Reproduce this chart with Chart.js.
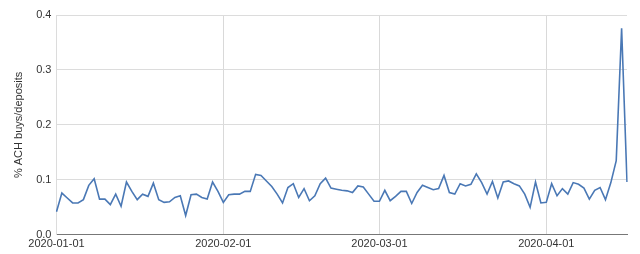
<!DOCTYPE html>
<html>
<head>
<meta charset="utf-8">
<script src="https://cdn.jsdelivr.net/npm/chart.js@4"></script>
<style>
  html, body { margin: 0; padding: 0; background: #fff; }
  #wrap { width: 640px; height: 254px; position: relative; }
</style>
</head>
<body>
<div id="wrap"><canvas id="lineChart"></canvas></div>
<script>
// daily share of ACH buys among deposits, 2020-01-01 .. 2020-04-16
const startDate = '2020-01-01';
const achShare = [
  0.042, 0.076, 0.067, 0.058, 0.058, 0.064, 0.090, 0.102, 0.065, 0.065,
  0.055, 0.074, 0.052, 0.096, 0.079, 0.064, 0.074, 0.070, 0.094, 0.064,
  0.059, 0.060, 0.068, 0.071, 0.035, 0.073, 0.074, 0.068, 0.065, 0.096,
  0.079, 0.059, 0.073, 0.074, 0.074, 0.079, 0.079, 0.110, 0.108, 0.098,
  0.088, 0.074, 0.058, 0.086, 0.093, 0.068, 0.084, 0.062, 0.071, 0.093,
  0.103, 0.085, 0.083, 0.081, 0.080, 0.077, 0.089, 0.087, 0.074, 0.061,
  0.061, 0.081, 0.062, 0.070, 0.079, 0.079, 0.057, 0.077, 0.090, 0.086,
  0.082, 0.084, 0.108, 0.077, 0.074, 0.093, 0.089, 0.092, 0.111, 0.095,
  0.074, 0.097, 0.067, 0.096, 0.098, 0.093, 0.089, 0.074, 0.050, 0.096,
  0.058, 0.059, 0.093, 0.071, 0.084, 0.074, 0.095, 0.092, 0.085, 0.065,
  0.081, 0.086, 0.064, 0.095, 0.135, 0.376, 0.096
];
const xTickLabels = ['2020-01-01', '2020-02-01', '2020-03-01', '2020-04-01'];
const yTicks = [0, 0.1, 0.2, 0.3, 0.4];

// one category per day
function buildDays(start, n) {
  const out = [];
  const d = new Date(start + 'T00:00:00Z');
  for (let i = 0; i < n; i++) {
    out.push(d.toISOString().slice(0, 10));
    d.setUTCDate(d.getUTCDate() + 1);
  }
  return out;
}
const days = buildDays(startDate, achShare.length);

Chart.defaults.font.family = '"Liberation Sans", Arial, sans-serif';
Chart.defaults.font.size = 11;
Chart.defaults.color = '#444';

const ctx = document.getElementById('lineChart').getContext('2d');
new Chart(ctx, {
  type: 'line',
  data: {
    labels: days,
    datasets: [{
      label: '% ACH buys/deposits',
      data: achShare,
      borderColor: '#4a78b5',
      borderWidth: 1.6,
      pointRadius: 0,
      tension: 0,
      fill: false
    }]
  },
  options: {
    responsive: true,
    maintainAspectRatio: false,
    animation: false,
    layout: { padding: { left: 12, right: 13, top: 15, bottom: 0 } },
    plugins: {
      legend: { display: false },
      tooltip: { enabled: false }
    },
    scales: {
      x: {
        type: 'category',
        offset: false,
        grid: { color: '#d9d9d9', drawTicks: false },
        border: { color: '#777' },
        ticks: {
          autoSkip: false,
          maxRotation: 0,
          padding: 3,
          color: '#333',
          callback: function (v, i) {
            const lab = this.getLabelForValue(v);
            return xTickLabels.includes(lab) ? lab : null;
          }
        }
      },
      y: {
        min: 0,
        max: 0.4,
        afterBuildTicks: axis => { axis.ticks = yTicks.map(v => ({ value: v })); },
        grid: { color: '#dcdcdc', drawTicks: false },
        border: { color: '#dcdcdc' },
        ticks: {
          padding: 5,
          color: '#333',
          callback: v => v.toFixed(1)
        },
        title: {
          display: true,
          text: '% ACH buys/deposits',
          color: '#333',
          font: { size: 11 },
          padding: { top: 0, bottom: 6 }
        }
      }
    }
  }
});
</script>
</body>
</html>
